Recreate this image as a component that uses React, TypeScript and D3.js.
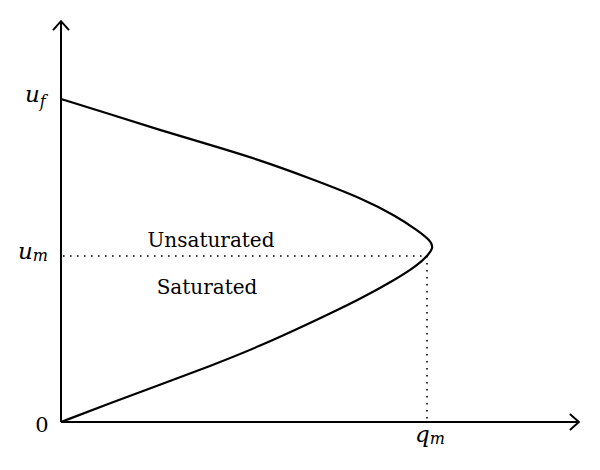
import React from "react";
import * as d3 from "d3";

// Normalized flow (q / qm) and speed (u / uf) along the curve
const curveQ = [0, 0.134, 0.27, 0.407, 0.544, 0.68, 0.817, 0.912, 0.972, 1.004, 1.018, 1.008, 0.972, 0.918, 0.822, 0.682, 0.544, 0.407, 0.27, 0.134, 0];
const curveU = [0, 0.058, 0.115, 0.173, 0.235, 0.306, 0.38, 0.44, 0.483, 0.518, 0.54, 0.564, 0.595, 0.636, 0.693, 0.754, 0.811, 0.858, 0.904, 0.953, 1];
const qm = 1;
const um = 0.514;
const uf = 1;
const qAxisEnd = 1.415;
const uAxisEnd = 1.241;
const regionLabels = ["Unsaturated", "Saturated"];

export default function App() {
  const W = 600, H = 470;
  const x = d3.scaleLinear().domain([0, qm]).range([61, 427]);
  const y = d3.scaleLinear().domain([0, uf]).range([422, 99]);
  const pts: [number, number][] = curveQ.map((q, i) => [x(q), y(curveU[i])]);
  const line = d3.line().curve(d3.curveBasis);
  const x0 = x(0), y0 = y(0);
  const xe = x(qAxisEnd), ye = y(uAxisEnd);
  const serif = "'DejaVu Serif', serif";
  return (
    <svg width={W} height={H} style={{ position: "absolute", left: 0, top: 0, background: "#fff" }}>
      <rect width={W} height={H} fill="#fff" />
      {/* dotted guides */}
      <line x1={x0 + 2} y1={y(um)} x2={x(qm)} y2={y(um)} stroke="#000" strokeWidth={1.6}
        strokeDasharray="1.6 5.4" />
      <line x1={x(qm)} y1={y(um)} x2={x(qm)} y2={y0 - 2} stroke="#000" strokeWidth={1.6}
        strokeDasharray="1.6 5.4" />
      {/* curve */}
      <path d={line(pts) || ""} fill="none" stroke="#000" strokeWidth={2.2} />
      {/* axes */}
      <line x1={x0} y1={y0} x2={x0} y2={ye} stroke="#000" strokeWidth={2} />
      <line x1={x0} y1={y0} x2={xe} y2={y0} stroke="#000" strokeWidth={2} />
      <path d={`M${x0 - 8},${ye + 9} L${x0},${ye} L${x0 + 8},${ye + 9}`} fill="none" stroke="#000" strokeWidth={2} />
      <path d={`M${xe - 9},${y0 - 8} L${xe},${y0} L${xe - 9},${y0 + 8}`} fill="none" stroke="#000" strokeWidth={2} />
      {/* tick labels */}
      <text x={x0 - 19} y={y0 + 10} fontFamily={serif} fontSize={21} textAnchor="middle">0</text>
      <text x={x0 - 36} y={y(uf) + 3} fontFamily={serif} fontStyle="italic" fontSize={23}>
        u<tspan fontSize={16} dy={5}>f</tspan>
      </text>
      <text x={x0 - 43} y={y(um) + 3} fontFamily={serif} fontStyle="italic" fontSize={23}>
        u<tspan fontSize={16} dy={2}>m</tspan>
      </text>
      <text x={x(qm) - 12} y={y0 + 20} fontFamily={serif} fontStyle="italic" fontSize={23}>
        q<tspan fontSize={16} dy={2}>m</tspan>
      </text>
      {/* region labels */}
      <text x={211} y={y(um) - 9} fontFamily={serif} fontSize={20} textAnchor="middle">{regionLabels[0]}</text>
      <text x={207} y={y(um) + 38} fontFamily={serif} fontSize={20} textAnchor="middle">{regionLabels[1]}</text>
    </svg>
  );
}
